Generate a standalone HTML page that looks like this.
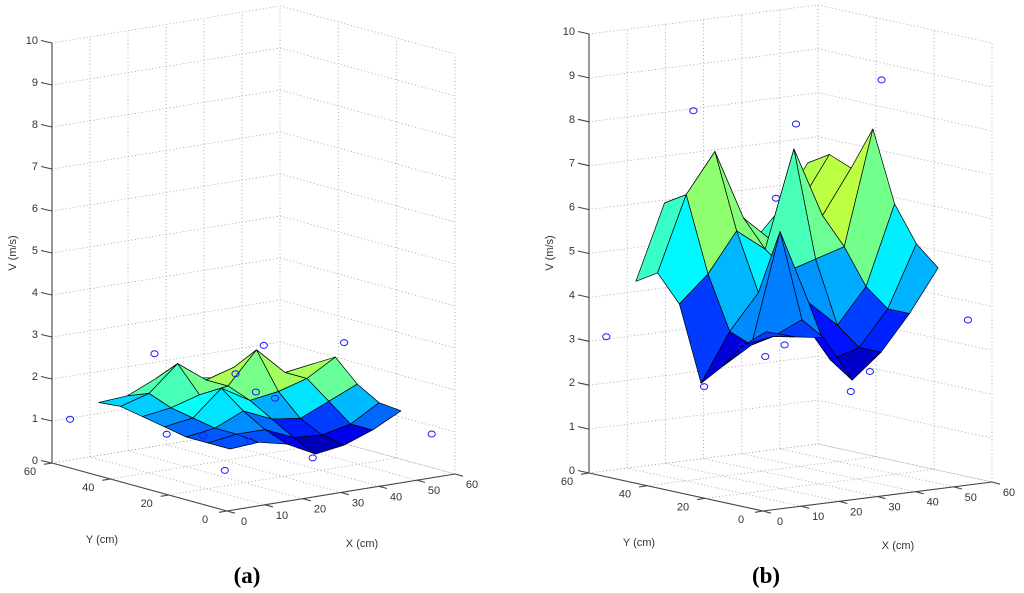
<!DOCTYPE html>
<html><head><meta charset="utf-8"><title>Velocity surfaces</title>
<style>
html,body{margin:0;padding:0;background:#fff;}
svg{display:block;font-family:"Liberation Sans",sans-serif;}
.tick{font-size:11px;fill:#333;}
.alabel{font-size:11px;fill:#333;}
.plabel{font-family:"Liberation Serif",serif;font-size:23px;font-weight:bold;fill:#000;}
</style></head>
<body>
<svg id="fig" width="1024" height="593" viewBox="0 0 1024 593" xmlns="http://www.w3.org/2000/svg">
<rect width="1024" height="593" fill="#fff"/>
<g id="panelA"></g>
<g id="panelB"></g>
<text class="plabel" x="247" y="583" text-anchor="middle">(a)</text>
<text class="plabel" x="766" y="583" text-anchor="middle">(b)</text>
</svg>
<script>
// ---- data ----
const xTicks = [0,10,20,30,40,50,60];
const yTicks = [0,20,40,60];
const zTicks = [0,1,2,3,4,5,6,7,8,9,10];
const gridX = [10,17.5,25,32.5,40,47.5,55];
const gridY = [12,19.5,27,34.5,42,49.5,57];
// rows: Y ascending (gridY), cols: X ascending (gridX)
const surfA = [
 [1.10,1.15,1.00,0.65,0.75,1.00,1.35],
 [1.10,1.20,1.20,0.90,0.85,1.00,1.40],
 [1.10,1.20,1.50,1.20,1.10,1.40,1.70],
 [1.20,1.30,1.90,1.50,1.60,1.80,2.20],
 [1.30,1.40,1.60,1.70,2.45,1.80,1.90],
 [1.40,1.60,2.20,1.70,1.90,1.80,1.50],
 [1.35,1.40,1.70,1.60,1.50,1.50,1.40]
];
const surfB = [
 [3.80,3.60,3.50,2.45,3.00,3.80,4.76],
 [3.40,3.50,3.80,2.80,3.00,3.80,5.20],
 [2.80,3.20,5.70,4.00,3.40,4.20,6.00],
 [2.30,3.40,4.20,4.60,4.80,5.00,7.60],
 [4.00,4.60,5.50,5.00,7.20,5.60,6.60],
 [4.60,6.30,7.20,5.60,5.00,5.80,6.80],
 [4.30,6.00,5.20,5.00,4.80,5.50,6.50]
];
const ptsAX = [4,17,35,50,60,11,16,23,31,14,36,36,38];
const ptsAY = [59,47,33,25,8,35,29,22,11,19,44,37,33];
const ptsAZ = [1.0,2.6,2.8,2.8,0.8,1.0,1.0,0.9,0.6,0.4,1.9,1.6,1.5];
const ptsBX = [19,36,33,3,28,31,33,18,47,59,42,47];
const ptsBY = [49,36,39,58,44,40,36,44,21,7,25,25];
const ptsBZ = [8.2,7.9,6.2,3.1,2.8,2.6,2.9,2.0,9.0,3.6,1.9,2.3];

const NS = "http://www.w3.org/2000/svg";
function mk(tag, attrs, parent){
  const e = document.createElementNS(NS, tag);
  for (const k in attrs) e.setAttribute(k, attrs[k]);
  parent.appendChild(e);
  return e;
}
function jet(t){
  t = Math.max(0, Math.min(1, t));
  const c = v => Math.round(255*Math.max(0, Math.min(1, v)));
  return "rgb(" + c(1.5-Math.abs(4*t-3)) + "," + c(1.5-Math.abs(4*t-2)) + "," + c(1.5-Math.abs(4*t-1)) + ")";
}

function drawPanel(g, P, surf, px, py, pz){
  const proj = (X,Y,Z) => [
    P.B[0] + X/60*(P.C[0]-P.B[0]) + Y/60*(P.A[0]-P.B[0]),
    P.B[1] + X/60*(P.C[1]-P.B[1]) + Y/60*(P.A[1]-P.B[1]) - Z*P.zs
  ];
  const dot = {stroke:"#9a9a9a","stroke-width":0.8,"stroke-dasharray":"1,2.5",fill:"none"};
  function line(p,q,style,name){
    const l = mk("line", Object.assign({x1:p[0].toFixed(1),y1:p[1].toFixed(1),x2:q[0].toFixed(1),y2:q[1].toFixed(1)}, style), g);
    
    
    return l;
  }
  zTicks.forEach(z => {
    line(proj(0,60,z), proj(60,60,z), dot, 'grid-line-z');
    line(proj(60,60,z), proj(60,0,z), dot, 'grid-line-z');
  });
  xTicks.forEach(x => { if (x>0) line(proj(x,60,0), proj(x,60,10), dot, 'grid-line-x'); });
  yTicks.forEach(y => { if (y<60) line(proj(60,y,0), proj(60,y,10), dot, 'grid-line-y'); });
  xTicks.forEach(x => line(proj(x,0,0), proj(x,60,0), dot, 'floor-grid-x'));
  yTicks.forEach(y => line(proj(0,y,0), proj(60,y,0), dot, 'floor-grid-y'));
  const ax = {stroke:"#444","stroke-width":1.1};
  line(proj(0,60,0), proj(0,60,10), ax, 'z-axis');
  line(proj(0,60,0), proj(0,0,0), ax, 'y-axis');
  line(proj(0,0,0), proj(60,0,0), ax, 'x-axis');
  zTicks.forEach(z => {
    const p = proj(0,60,z);
    line(p, [p[0]-11, p[1]-2.5], ax, 'z-tick');
    const t = mk("text", {x:(p[0]-14).toFixed(1), y:(p[1]+1).toFixed(1), "text-anchor":"end", class:"tick"}, g);
    
    
    t.textContent = z;
  });
  yTicks.forEach(y => {
    const p = proj(0,y,0);
    line(p, [p[0]-8, p[1]+1.3], ax, 'y-tick');
    const t = mk("text", {x:(p[0]-22).toFixed(1), y:(p[1]+12).toFixed(1), "text-anchor":"middle", class:"tick"}, g);
    
    
    t.textContent = y;
  });
  xTicks.forEach(x => {
    const p = proj(x,0,0);
    line(p, [p[0]+8, p[1]+2.2], ax, 'x-tick');
    const t = mk("text", {x:(p[0]+17).toFixed(1), y:(p[1]+14).toFixed(1), "text-anchor":"middle", class:"tick"}, g);
    
    
    t.textContent = x;
  });
  let zmin = Infinity, zmax = -Infinity;
  surf.forEach(r => r.forEach(v => { zmin = Math.min(zmin, v); zmax = Math.max(zmax, v); }));
  const faces = [];
  for (let j=0;j<gridY.length-1;j++){
    for (let i=0;i<gridX.length-1;i++){
      const cs = [[i,j],[i+1,j],[i+1,j+1],[i,j+1]];
      const pts = cs.map(([a,b]) => proj(gridX[a], gridY[b], surf[b][a]));
      const mean = cs.reduce((s,[a,b]) => s + surf[b][a], 0)/4;
      const xm = (gridX[i]+gridX[i+1])/2, ym = (gridY[j]+gridY[j+1])/2;
      const depth = xm/60*175 + ym/60*228;
      faces.push({pts, mean, depth});
    }
  }
  faces.sort((a,b) => b.depth - a.depth);
  const sg = mk("g", {}, g);
  
  
  faces.forEach(f => {
    const p = mk("polygon", {
      points: f.pts.map(q => q[0].toFixed(1)+","+q[1].toFixed(1)).join(" "),
      fill: jet((f.mean - zmin)/(zmax - zmin)*0.76),
      stroke: "#000", "stroke-width": 0.7, "stroke-linejoin": "round"
    }, sg);
    
    
  });
  px.forEach((x,k) => {
    const p = proj(x, py[k], pz[k]);
    const c = mk("ellipse", {cx:p[0].toFixed(1), cy:p[1].toFixed(1), rx:3.6, ry:3, fill:"none", stroke:"#1a1aff", "stroke-width":1}, g);
    
    
  });
  const zl = mk("text", {x:P.zl[0], y:P.zl[1], transform:"rotate(-90 "+P.zl[0]+" "+P.zl[1]+")", "text-anchor":"middle", class:"alabel"}, g);
  
  
  zl.textContent = "V (m/s)";
  const yl = mk("text", {x:P.yl[0], y:P.yl[1], "text-anchor":"middle", class:"alabel"}, g);
  
  
  yl.textContent = "Y (cm)";
  const xl = mk("text", {x:P.xl[0], y:P.xl[1], "text-anchor":"middle", class:"alabel"}, g);
  
  
  xl.textContent = "X (cm)";
}

drawPanel(document.getElementById("panelA"),
  {A:[52,463], B:[227,511], C:[455,474], zs:42.0, zl:[16,253], yl:[102,543], xl:[362,547]},
  surfA, ptsAX, ptsAY, ptsAZ);
drawPanel(document.getElementById("panelB"),
  {A:[589,473], B:[763,511], C:[992,482], zs:43.9, zl:[553,253], yl:[639,546], xl:[898,549]},
  surfB, ptsBX, ptsBY, ptsBZ);
</script>
</body></html>
